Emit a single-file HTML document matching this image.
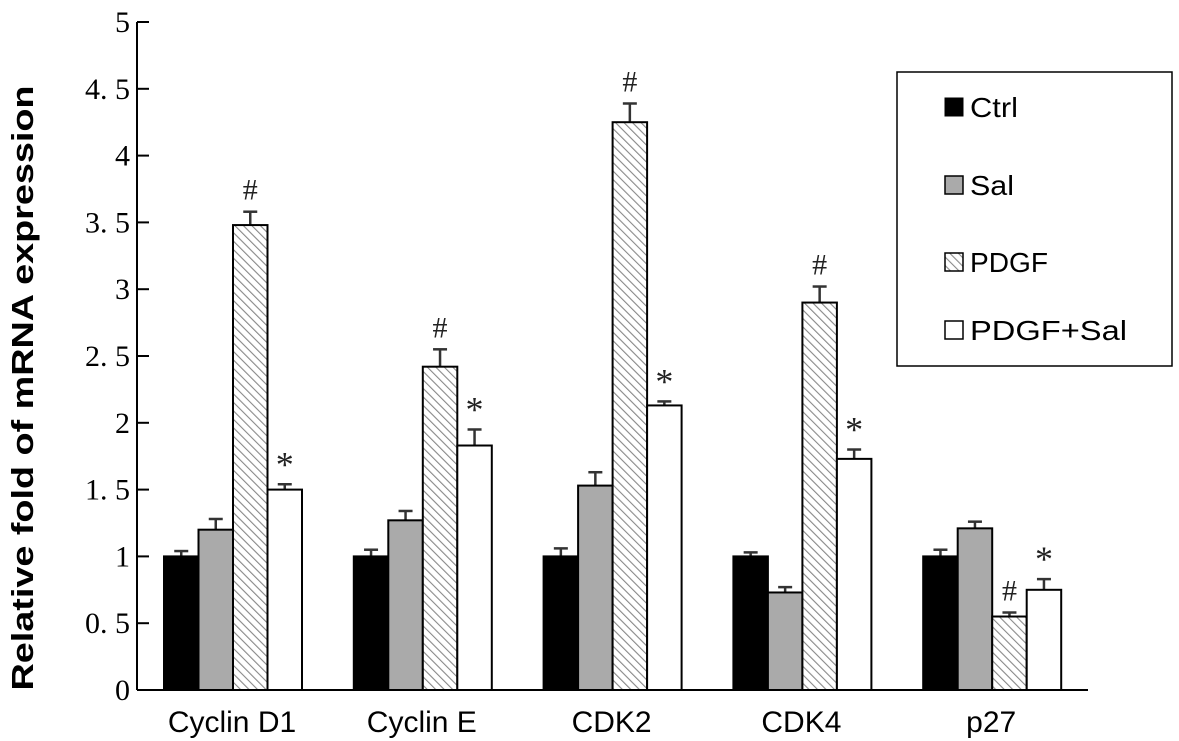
<!DOCTYPE html>
<html><head><meta charset="utf-8"><style>
html,body{margin:0;padding:0;background:#fff;}
svg{display:block;}
</style></head><body>
<svg id="chart" width="1179" height="741" viewBox="0 0 1179 741" xmlns="http://www.w3.org/2000/svg">
<defs>
<pattern id="hatch" patternUnits="userSpaceOnUse" width="6" height="6" patternTransform="rotate(-45)">
<rect width="6" height="6" fill="#fff"/>
<line x1="0" y1="0" x2="0" y2="6" stroke="#888" stroke-width="2.2"/>
</pattern>
</defs>
<text transform="translate(33,388) rotate(-90)" text-anchor="middle" font-family="Liberation Sans, sans-serif" font-weight="bold" font-size="31" textLength="605" lengthAdjust="spacingAndGlyphs">Relative fold of mRNA expression</text>
<g id="axes"></g>
<g id="bars"></g>
<g>
<rect x="897" y="72" width="275" height="294" fill="#fff" stroke="#000" stroke-width="1.5"/>
<rect x="945" y="98" width="18" height="18" fill="#000" stroke="#000"/>
<text x="970" y="117" font-family="Liberation Sans, sans-serif" font-size="28" textLength="48" lengthAdjust="spacingAndGlyphs">Ctrl</text>
<rect x="945" y="176" width="18" height="18" fill="#aaa" stroke="#000" stroke-width="1.5"/>
<text x="970" y="195" font-family="Liberation Sans, sans-serif" font-size="28" textLength="44" lengthAdjust="spacingAndGlyphs">Sal</text>
<rect x="945" y="253" width="18" height="18" fill="url(#hatch)" stroke="#000" stroke-width="1.5"/>
<text x="970" y="272" font-family="Liberation Sans, sans-serif" font-size="28" textLength="78" lengthAdjust="spacingAndGlyphs">PDGF</text>
<rect x="945" y="321" width="18" height="18" fill="#fff" stroke="#000" stroke-width="1.5"/>
<text x="970" y="340" font-family="Liberation Sans, sans-serif" font-size="28" textLength="157" lengthAdjust="spacingAndGlyphs">PDGF+Sal</text>
</g>
</svg>
<script>
const categories = ["Cyclin D1","Cyclin E","CDK2","CDK4","p27"];
const ctrlValues = [1,1,1,1,1];
const salValues = [1.2,1.27,1.53,0.73,1.21];
const pdgfValues = [3.48,2.42,4.25,2.9,0.55];
const pdgfSalValues = [1.5,1.83,2.13,1.73,0.75];
const ctrlErr = [0.04,0.05,0.06,0.03,0.05];
const salErr = [0.08,0.07,0.1,0.04,0.05];
const pdgfErr = [0.1,0.13,0.14,0.12,0.03];
const pdgfSalErr = [0.04,0.12,0.03,0.07,0.08];
const pdgfMarks = ["#","#","#","#","#"];
const pdgfSalMarks = ["*","*","*","*","*"];
const yTicks = [0,0.5,1,1.5,2,2.5,3,3.5,4,4.5,5];
const yTickLabels = ["0","0. 5","1","1. 5","2","2. 5","3","3. 5","4","4. 5","5"];

const NS="http://www.w3.org/2000/svg";
const y0=690, yTop=22, yMax=5;
function yScale(v){return y0-(v/yMax)*(y0-yTop);}
const groupStart=164, groupStep=189.8, barW=34.5;
function xBar(g,s){return groupStart+g*groupStep+s*barW;}
function mk(tag,attrs,parent){const e=document.createElementNS(NS,tag);for(const k in attrs)e.setAttribute(k,attrs[k]);parent.appendChild(e);return e;}

const axes=document.getElementById('axes');
let yl=mk('line',{x1:137,y1:yTop,x2:137,y2:y0,stroke:'#000','stroke-width':2},axes);


let xl=mk('line',{x1:137,y1:y0,x2:1088,y2:y0,stroke:'#000','stroke-width':2},axes);


yTicks.forEach((t,i)=>{
  const y=yScale(t);
  const tk=mk('line',{x1:137,y1:y,x2:149,y2:y,stroke:'#000','stroke-width':2},axes);
  
  
  const tx=mk('text',{x:130,y:y+10,'text-anchor':'end','font-family':'Liberation Serif, serif','font-size':30},axes);
  tx.textContent=yTickLabels[i];
  
  
});
categories.forEach((c,g)=>{
  const tx=mk('text',{x:xBar(g,2)-1,y:732,'text-anchor':'middle','font-family':'Liberation Sans, sans-serif','font-size':30},axes);
  tx.textContent=c;
  
  
});

const bars=document.getElementById('bars');
const series=[
 {vals:ctrlValues,err:ctrlErr,fill:'#000',name:'ctrl'},
 {vals:salValues,err:salErr,fill:'#aaa',name:'sal'},
 {vals:pdgfValues,err:pdgfErr,fill:'url(#hatch)',name:'pdgf',marks:pdgfMarks},
 {vals:pdgfSalValues,err:pdgfSalErr,fill:'#fff',name:'pdgf-sal',marks:pdgfSalMarks}
];
series.forEach((s,si)=>{
  s.vals.forEach((v,g)=>{
    const x=xBar(g,si), y=yScale(v);
    const cx=x+barW/2, ey=yScale(v+s.err[g]);
    const el=mk('line',{x1:cx,y1:y,x2:cx,y2:ey,stroke:'#333','stroke-width':2.5},bars);
    
    
    const cap=mk('line',{x1:cx-7,y1:ey,x2:cx+7,y2:ey,stroke:'#333','stroke-width':2.5},bars);
    
    
    const r=mk('rect',{x:x,y:y,width:barW,height:y0-y,fill:s.fill,stroke:'#000','stroke-width':2},bars);
    
    
    if(s.marks){
      const m=mk('text',{x:cx,y:ey-(s.marks[g]==='*'?8:12),'text-anchor':'middle','font-family':'Liberation Serif, serif','font-size':s.marks[g]==='*'?36:30,fill:'#222'},bars);
      m.textContent=s.marks[g];
      
      
    }
  });
});
</script>
</body></html>
